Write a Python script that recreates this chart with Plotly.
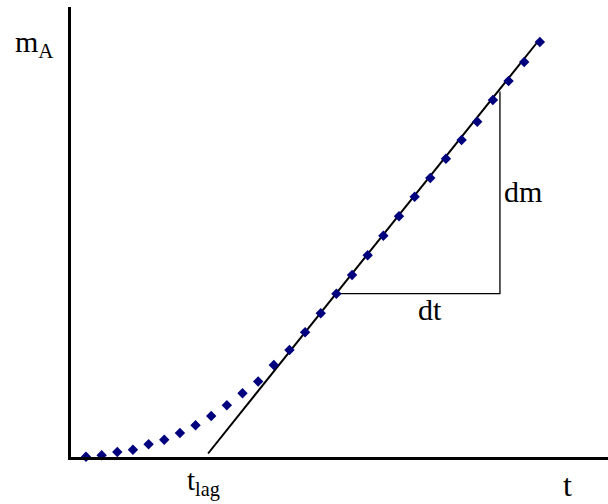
import plotly.graph_objects as go

# Measured data (t in sample steps, m in arbitrary units)
t_vals = list(range(1, 31))
m_vals = [0.13, 0.27, 0.60, 0.83, 1.37, 1.83, 2.50, 3.27, 4.20, 5.27,
          6.47, 7.65, 9.30, 10.80, 12.57, 14.47, 16.43, 18.30, 20.27, 22.22,
          24.17, 26.13, 28.00, 29.93, 31.80, 33.63, 35.80, 37.70, 39.60, 41.60]

# Tangent line through the linear region (from t_lag to the end)
tangent_t = [8.80, 29.95]
tangent_m = [0.45, 41.80]

# Slope triangle (dt horizontal, dm vertical)
tri_t = [17.0, 27.45, 27.45]
tri_m = [16.43, 16.43, 36.66]

W, H = 608, 504
L, R, T, B = 71, 0, 7, 47
pw, ph = W - L - R, H - T - B
x0 = (L - 70.35) / 15.65
xr = [x0, x0 + pw / 15.65]
yr = [0.1, 0.1 + ph / 10.0]

def px(x):
    return (x - L) / pw

def py(y):
    return (H - B - y) / ph

fig = go.Figure()
fig.add_trace(go.Scatter(x=tangent_t, y=tangent_m, mode="lines",
                         line=dict(color="black", width=2), cliponaxis=False,
                         showlegend=False, hoverinfo="skip"))
fig.add_trace(go.Scatter(x=tri_t, y=tri_m, mode="lines",
                         line=dict(color="black", width=1.3), cliponaxis=False,
                         showlegend=False, hoverinfo="skip"))
fig.add_trace(go.Scatter(x=t_vals, y=m_vals, mode="markers",
                         marker=dict(symbol="diamond", size=8, color="#00007F",
                                     line=dict(width=0)),
                         cliponaxis=False, showlegend=False))

font = "Liberation Serif, Times New Roman, serif"
ann = [
    ("m<sub>A</sub>", 13, 44, 30, "left"),
    ("t<sub>lag</sub>", 185, 482, 29, "left"),
    ("t", 567, 485, 32, "center"),
    ("dm", 523, 191, 30, "center"),
    ("dt", 430, 309, 30, "center"),
]
for text, x, y, s, xa in ann:
    fig.add_annotation(text=text, xref="paper", yref="paper", x=px(x), y=py(y),
                       xanchor=xa, yanchor="middle", showarrow=False,
                       font=dict(family=font, size=s, color="black"))

fig.update_xaxes(range=xr, showgrid=False, zeroline=False, showticklabels=False,
                 ticks="", showline=True, linecolor="black", linewidth=3)
fig.update_yaxes(range=yr, showgrid=False, zeroline=False, showticklabels=False,
                 ticks="", showline=True, linecolor="black", linewidth=3)
fig.update_layout(width=W, height=H, margin=dict(l=L, r=R, t=T, b=B),
                  paper_bgcolor="white", plot_bgcolor="white")
fig.write_html("out.html", config={"displayModeBar": False},
               post_script="document.body.style.margin='0px';document.body.style.overflow='hidden';")
